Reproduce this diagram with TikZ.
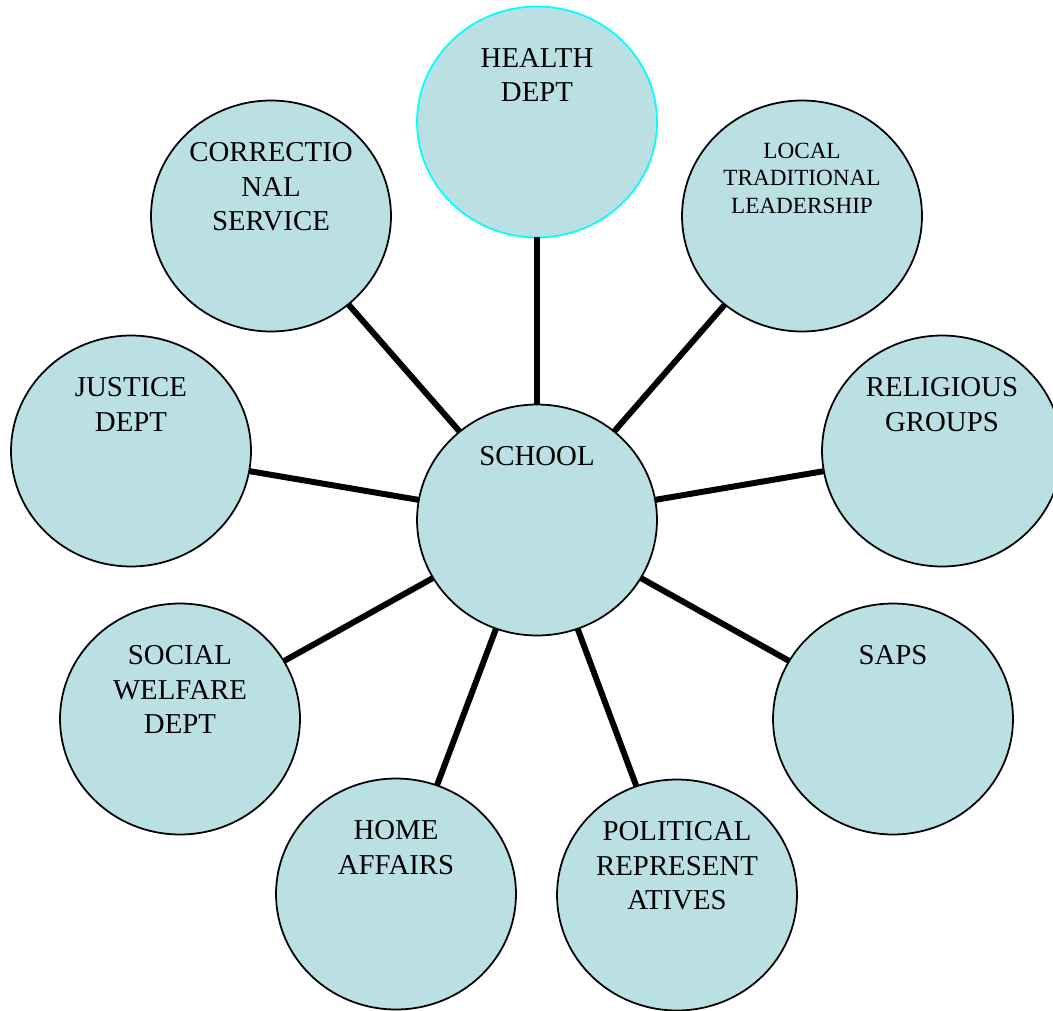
\documentclass[tikz,border=0pt]{standalone}
\usepackage{fontspec}
\setmainfont{Liberation Serif}
\usetikzlibrary{shapes.geometric,positioning}

\definecolor{bubblefill}{RGB}{187,224,227}
\definecolor{healthrim}{RGB}{0,255,255}

\begin{document}
\begin{tikzpicture}[x=0.02cm, y=-0.02cm,
    bubble/.style={ellipse, draw=black, line width=1pt, fill=bubblefill,
        minimum width=4.8cm, minimum height=4.62cm, inner sep=0pt, outer sep=0pt},
    caption/.style={align=center, inner sep=0pt, font=\fontsize{16.4}{19.4}\selectfont},
    smallcaption/.style={caption, font=\fontsize{13.2}{15.6}\selectfont},
    link/.style={line width=3.4pt}]

    \useasboundingbox (0,0) rectangle (1053,1010);

    %% School and its partners

    % Bubbles
    \node[bubble] (school) at (537,520) {};
    \node[bubble, draw=healthrim] (health) at (537,122) {};
    \node[bubble] (local) at (802,216) {};
    \node[bubble] (correct) at (271,216) {};
    \node[bubble] (justice) at (131,451) {};
    \node[bubble] (religious) at (942,451) {};
    \node[bubble] (welfare) at (180,719) {};
    \node[bubble] (saps) at (893,719) {};
    \node[bubble] (home) at (396,894) {};
    \node[bubble] (political) at (677,895) {};

    % Links
    \foreach \partner in {health,local,correct,justice,religious,welfare,saps,home,political}
        \draw[link] (school) -- (\partner);

    % Captions
    \node[caption, below=0.84cm of school.north] (schooltxt) {SCHOOL};
    \node[caption, below=0.84cm of health.north] (healthtxt) {HEALTH\\DEPT};
    \node[smallcaption, below=0.84cm of local.north] (localtxt) {LOCAL\\TRADITIONAL\\LEADERSHIP};
    \node[caption, below=0.84cm of correct.north] (correcttxt) {CORRECTIO\\NAL\\SERVICE};
    \node[caption, below=0.84cm of justice.north] (justicetxt) {JUSTICE\\DEPT};
    \node[caption, below=0.84cm of religious.north] (religioustxt) {RELIGIOUS\\GROUPS};
    \node[caption, below=0.84cm of welfare.north] (welfaretxt) {SOCIAL\\WELFARE\\DEPT};
    \node[caption, below=0.84cm of saps.north] (sapstxt) {SAPS};
    \node[caption, below=0.84cm of home.north] (hometxt) {HOME\\AFFAIRS};
    \node[caption, below=0.84cm of political.north] (politicaltxt) {POLITICAL\\REPRESENT\\ATIVES};

\end{tikzpicture}
\end{document}
